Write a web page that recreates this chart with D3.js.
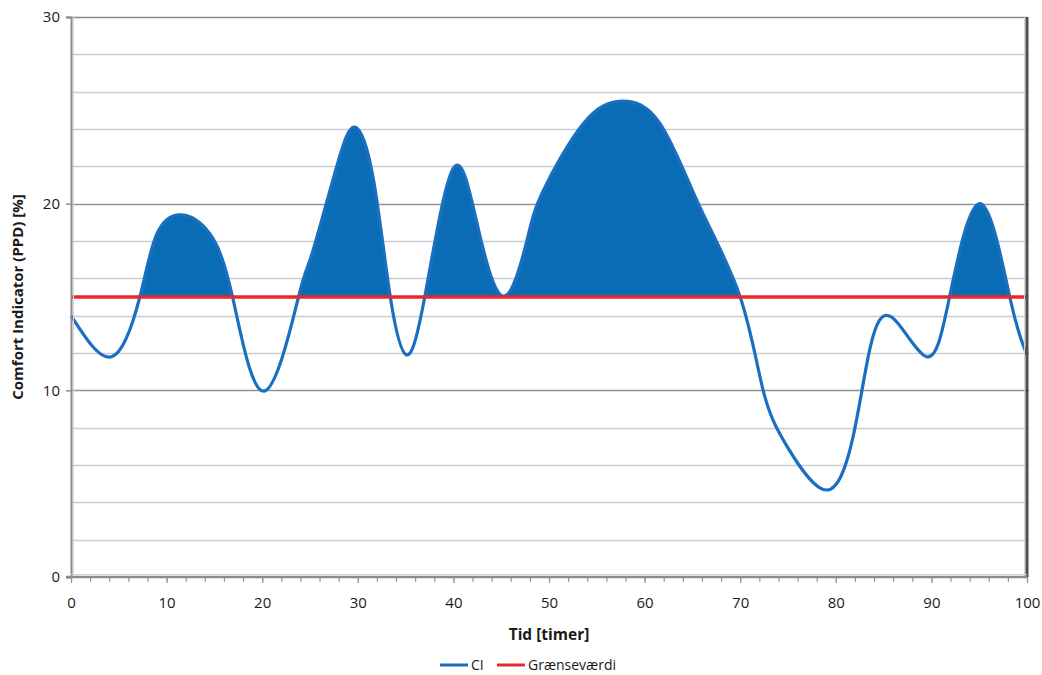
<!DOCTYPE html>
<html>
<head>
<meta charset="utf-8">
<script src="https://cdn.jsdelivr.net/npm/d3@7"></script>
<style>
  html, body { margin: 0; padding: 0; background: #ffffff; }
  svg { display: block; font-family: "Open Sans", "Liberation Sans", sans-serif; }
</style>
</head>
<body>
<svg id="chart" width="1042" height="675"></svg>
<script>
// Time (hours) and comfort indicator (PPD, %) along the simulated period
const hours = [0, 4.25, 7.2, 9.0, 11.6, 14.5, 16.9, 20.2, 23.8, 25.2, 27.8, 29.7, 31.6, 33.4,
  35.1, 37.0, 39.9, 42.4, 45.2, 47.7, 49.4, 53.6, 57.6, 61.6, 65.8, 70.0, 72.4, 74.9,
  79.0, 81.8, 83.6, 85.9, 89.5, 91.9, 95.1, 98.2, 100];
const ciValues = [14.0, 11.8, 15.0, 18.4, 19.4, 18.4, 15.0, 9.96, 15.0, 17.3, 22.0, 24.1, 21.4, 15.0,
  11.9, 15.0, 21.8, 19.1, 15.05, 18.05, 20.7, 24.3, 25.5, 24.3, 19.8, 15.0, 10.0, 7.0,
  4.66, 7.5, 12.3, 13.9, 11.8, 15.0, 20.0, 15.0, 11.9];
const limitValue = 15;

const xTicks = [0, 10, 20, 30, 40, 50, 60, 70, 80, 90, 100];
const xMinorTicks = d3.range(0, 101, 2);
const yTicks = [0, 10, 20, 30];
const yGridValues = d3.range(2, 30, 2);

const seriesNames = ["CI", "Grænseværdi"];
const seriesColors = ["#1a6fc0", "#e8272d"];
const fillColor = "#0a6cb5";

const svg = d3.select("#chart");
const plotLeft = 71, plotRight = 1027, plotTop = 17, plotBottom = 577;

const x = d3.scaleLinear().domain([0, 100]).range([plotLeft, plotRight]);
const y = d3.scaleLinear().domain([0, 30]).range([plotBottom, plotTop]);

const points = hours.map((h, i) => ({ h, v: ciValues[i] }));

// Horizontal gridlines
svg.append("g")
  .selectAll("line")
  .data(yGridValues)
  .join("line")
  .attr("x1", plotLeft).attr("x2", plotRight + 2)
  .attr("y1", d => Math.round(y(d)) + 0.5).attr("y2", d => Math.round(y(d)) + 0.5)
  .attr("stroke", d => d % 10 === 0 ? "#8e9296" : "#c9cdd1")
  .attr("stroke-width", 1.5);

// Area above the limit, clipped to the band above the limit line
svg.append("clipPath").attr("id", "aboveLimit")
  .append("rect")
  .attr("x", plotLeft).attr("y", plotTop)
  .attr("width", plotRight - plotLeft).attr("height", y(limitValue) - plotTop);

const curve = d3.curveNatural;

svg.append("path")
  .datum(points)
  .attr("clip-path", "url(#aboveLimit)")
  .attr("fill", fillColor)
  .attr("d", d3.area().curve(curve)
    .x(d => x(d.h))
    .y0(y(limitValue))
    .y1(d => y(d.v)));

// CI line
svg.append("path")
  .datum(points)
  .attr("fill", "none")
  .attr("stroke", seriesColors[0])
  .attr("stroke-width", 3.2)
  .attr("d", d3.line().curve(curve).x(d => x(d.h)).y(d => y(d.v)));

// Limit line
svg.append("line")
  .attr("x1", x(0)).attr("x2", x(100))
  .attr("y1", y(limitValue)).attr("y2", y(limitValue))
  .attr("stroke", seriesColors[1])
  .attr("stroke-width", 3.5);

// Top edge and back wall
svg.append("line")
  .attr("x1", plotLeft - 5).attr("x2", plotRight)
  .attr("y1", plotTop + 0.5).attr("y2", plotTop + 0.5)
  .attr("stroke", "#8a8a8a").attr("stroke-width", 1.5);
svg.append("line")
  .attr("x1", plotRight).attr("x2", plotRight)
  .attr("y1", plotTop).attr("y2", plotBottom)
  .attr("stroke", "#4f4f4f").attr("stroke-width", 3);
svg.append("line")
  .attr("x1", plotRight - 2.5).attr("x2", plotRight - 2.5)
  .attr("y1", plotTop).attr("y2", plotBottom)
  .attr("stroke", "#d4d4d4").attr("stroke-width", 1);

// Y axis
const yAxis = d3.axisLeft(y).tickValues(yTicks).tickSize(5).tickPadding(6);
const gy = svg.append("g").attr("transform", `translate(${plotLeft},0)`).call(yAxis);
gy.select(".domain").attr("stroke", "#8c8c8c").attr("stroke-width", 2);
gy.selectAll(".tick line").attr("stroke", "#8c8c8c").attr("stroke-width", 1.5);
gy.selectAll(".tick text").attr("font-size", 15).attr("fill", "#1a1a1a")
  .attr("font-family", "'Open Sans', sans-serif");
svg.append("line")
  .attr("x1", plotLeft + 2.5).attr("x2", plotLeft + 2.5)
  .attr("y1", plotTop).attr("y2", plotBottom)
  .attr("stroke", "#d9d9d9").attr("stroke-width", 1);

// X axis (floor)
const xAxisMinor = d3.axisBottom(x).tickValues(xMinorTicks).tickSize(5).tickFormat("");
const gxm = svg.append("g").attr("transform", `translate(0,${plotBottom})`).call(xAxisMinor);
gxm.select(".domain").remove();
gxm.selectAll(".tick line").attr("stroke", "#8d9aa8").attr("stroke-width", 1.2);

const xAxis = d3.axisBottom(x).tickValues(xTicks).tickSize(6).tickPadding(14);
const gx = svg.append("g").attr("transform", `translate(0,${plotBottom})`).call(xAxis);
gx.select(".domain").attr("stroke", "#8c8c8c").attr("stroke-width", 2.5)
  .attr("d", `M${plotLeft - 5},0H${plotRight}`);
gx.selectAll(".tick line").attr("stroke", "#8d9aa8").attr("stroke-width", 1.2);
gx.selectAll(".tick text").attr("font-size", 15).attr("fill", "#1a1a1a")
  .attr("font-family", "'Open Sans', sans-serif");
svg.append("line")
  .attr("x1", plotLeft).attr("x2", plotRight)
  .attr("y1", plotBottom - 2.5).attr("y2", plotBottom - 2.5)
  .attr("stroke", "#d0d0d0").attr("stroke-width", 1);

// Axis titles
svg.append("text")
  .attr("x", (plotLeft + plotRight) / 2).attr("y", 640)
  .attr("text-anchor", "middle")
  .attr("font-size", 15.5).attr("font-weight", "bold").attr("fill", "#1a1a1a")
  .text("Tid [timer]");

svg.append("text")
  .attr("transform", `translate(23,${(plotTop + plotBottom) / 2}) rotate(-90)`)
  .attr("text-anchor", "middle")
  .attr("font-size", 15).attr("font-weight", "bold").attr("fill", "#1a1a1a")
  .text("Comfort Indicator (PPD) [%]");

// Legend
const legendX = [440, 497];
const legend = svg.append("g").selectAll("g")
  .data(seriesNames)
  .join("g")
  .attr("transform", (d, i) => `translate(${legendX[i]},665)`);
legend.append("line")
  .attr("x1", 0).attr("x2", 28).attr("y1", 0).attr("y2", 0)
  .attr("stroke", (d, i) => seriesColors[i]).attr("stroke-width", 3);
legend.append("text")
  .attr("x", 31).attr("y", 5)
  .attr("font-size", 14).attr("fill", "#1a1a1a")
  .text(d => d);
</script>
</body>
</html>
